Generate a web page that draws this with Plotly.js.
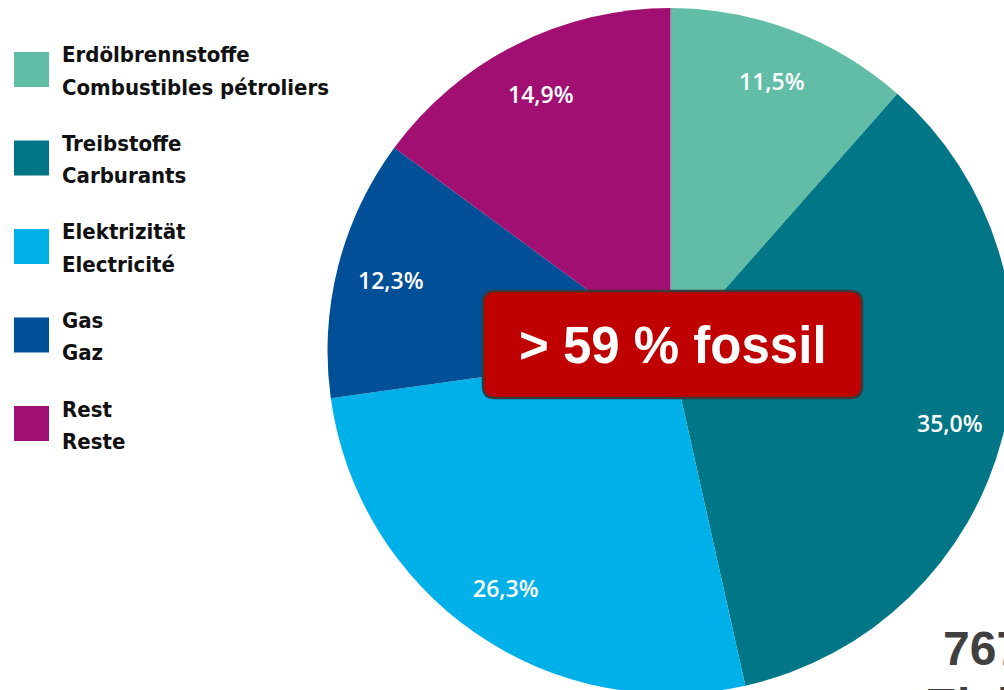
<!DOCTYPE html>
<html>
<head>
<meta charset="utf-8">
<script src="https://cdn.plot.ly/plotly-3.0.1.min.js"></script>
<style>
html, body { margin: 0; padding: 0; background: #ffffff; overflow: hidden; }
#chart { width: 1100px; height: 720px; }
</style>
</head>
<body>
<div id="chart"></div>
<script>
// ---- data ----
const categoriesDE = ["Erdölbrennstoffe", "Treibstoffe", "Elektrizität", "Gas", "Rest"];
const categoriesFR = ["Combustibles pétroliers", "Carburants", "Electricité", "Gaz", "Reste"];
const shares = [11.5, 35.0, 26.3, 12.3, 14.9];
const colors = ["#62BDA7", "#007686", "#00B1E9", "#004F97", "#A10F72"];
const calloutText = "> 59 % fossil";
const totalLine1 = "767 PJ";
const totalLine2 = "Elektrizität";

// ---- layout helpers (pixel -> paper) ----
const W = 1100, H = 720;
const px = x => x / W;
const py = y => 1 - y / H;

const cx = 670.5, cy = 351, R = 343;

const labels = categoriesDE.map((d, i) => d + " / " + categoriesFR[i]);
const sliceText = shares.map(v => v.toFixed(1).replace(".", ",") + "%");

const trace = {
  type: "pie",
  labels: labels,
  values: shares,
  textinfo: "none",
  sort: false,
  direction: "clockwise",
  rotation: 0,
  hole: 0,
  marker: { colors: colors, line: { width: 0 } },
  showlegend: false,
  domain: { x: [px(cx - R), px(cx + R)], y: [py(cy + R), py(cy - R)] }
};

const shapes = [];
const annotations = [];

// slice value labels, placed along each slice's bisector (from the data)
const total = shares.reduce((a, b) => a + b, 0);
let cum = 0;
shares.forEach((v, i) => {
  const mid = (cum + v / 2) / total * 2 * Math.PI;
  cum += v;
  const rr = 0.84 * R;
  annotations.push({
    xref: "paper", yref: "paper",
    x: px(cx + rr * Math.sin(mid)), y: py(cy - rr * Math.cos(mid)),
    xanchor: "center", yanchor: "middle", showarrow: false,
    text: sliceText[i],
    font: { family: "Open Sans, sans-serif", size: 23, color: "#ffffff", weight: 600 }
  });
});

// legend
const legTop = 52, legStep = 88.5, sq = 35;
const legFont = { family: "Liberation Sans Narrow, DejaVu Sans Condensed, Arial Narrow, sans-serif", size: 22, color: "#111111" };
categoriesDE.forEach((d, i) => {
  const t = legTop + i * legStep;
  shapes.push({
    type: "rect", xref: "paper", yref: "paper",
    x0: px(14), x1: px(14 + sq), y0: py(t + sq), y1: py(t),
    fillcolor: colors[i], line: { width: 0 }
  });
  [d, categoriesFR[i]].forEach((line, k) => {
    annotations.push({
      xref: "paper", yref: "paper", x: px(60), y: py(t + 3 + k * 32),
      xanchor: "left", yanchor: "middle", align: "left", showarrow: false,
      text: "<b>" + line + "</b>",
      font: legFont
    });
  });
});

// callout box with rounded corners
const bx0 = 483, bx1 = 862, by0 = 291, by1 = 398, rr = 12;
const P = (x, y) => px(x) + "," + py(y);
const boxPath = "M" + P(bx0 + rr, by0) + " L" + P(bx1 - rr, by0) +
  " Q" + P(bx1, by0) + " " + P(bx1, by0 + rr) +
  " L" + P(bx1, by1 - rr) +
  " Q" + P(bx1, by1) + " " + P(bx1 - rr, by1) +
  " L" + P(bx0 + rr, by1) +
  " Q" + P(bx0, by1) + " " + P(bx0, by1 - rr) +
  " L" + P(bx0, by0 + rr) +
  " Q" + P(bx0, by0) + " " + P(bx0 + rr, by0) + " Z";
shapes.push({
  type: "path", xref: "paper", yref: "paper", path: boxPath,
  fillcolor: "#C00000", line: { color: "#3a3a3a", width: 2.5 }, layer: "above"
});
annotations.push({
  xref: "paper", yref: "paper", x: px((bx0 + bx1) / 2), y: py((by0 + by1) / 2 + 1),
  xanchor: "center", yanchor: "middle", showarrow: false,
  text: "<b>" + calloutText + "</b>",
  font: { family: "Liberation Sans, Arial, sans-serif", size: 51, color: "#ffffff" }
});

// total text (partially cut off at the right/bottom edge, as in the reference)
annotations.push({
  xref: "paper", yref: "paper", x: px(941), y: py(620),
  xanchor: "left", yanchor: "top", align: "left", showarrow: false,
  text: "<b>" + totalLine1 + "</b>",
  font: { family: "Liberation Sans, Arial, sans-serif", size: 48, color: "#404040" }
});
annotations.push({
  xref: "paper", yref: "paper", x: px(923), y: py(677),
  xanchor: "left", yanchor: "top", align: "left", showarrow: false,
  text: "<b>" + totalLine2 + "</b>",
  font: { family: "Liberation Sans, Arial, sans-serif", size: 48, color: "#404040" }
});

const layout = {
  width: W, height: H,
  margin: { l: 0, r: 0, t: 0, b: 0, pad: 0 },
  paper_bgcolor: "#ffffff",
  plot_bgcolor: "#ffffff",
  showlegend: false,
  shapes: shapes,
  annotations: annotations
};

Plotly.newPlot("chart", [trace], layout, { displayModeBar: false, staticPlot: true });
</script>
</body>
</html>
